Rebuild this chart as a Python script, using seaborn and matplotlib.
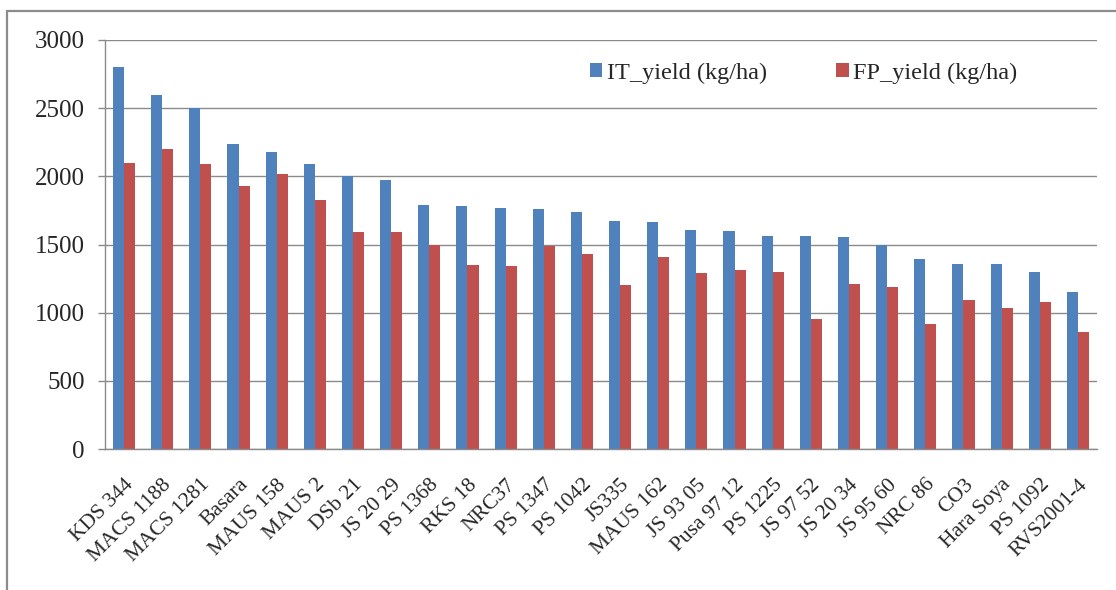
import matplotlib
matplotlib.use("Agg")
import matplotlib.pyplot as plt
from matplotlib.patches import Rectangle
import numpy as np
import pandas as pd
import seaborn as sns

# Soybean varieties and yields (kg/ha)
varieties = [
    "KDS 344", "MACS 1188", "MACS 1281", "Basara", "MAUS 158", "MAUS 2",
    "DSb 21", "JS 20 29", "PS 1368", "RKS 18", "NRC37", "PS 1347",
    "PS 1042", "JS335", "MAUS 162", "JS 93 05", "Pusa 97 12", "PS 1225",
    "JS 97 52", "JS 20 34", "JS 95 60", "NRC 86", "CO3", "Hara Soya",
    "PS 1092", "RVS2001-4",
]
it_yield = [2800, 2600, 2500, 2240, 2175, 2090, 2000, 1970, 1790, 1780,
            1770, 1760, 1735, 1675, 1665, 1610, 1600, 1565, 1565, 1555,
            1500, 1395, 1355, 1355, 1300, 1150]
fp_yield = [2100, 2200, 2090, 1930, 2015, 1825, 1590, 1590, 1500, 1350,
            1340, 1490, 1430, 1200, 1405, 1290, 1310, 1300, 950, 1210,
            1185, 915, 1095, 1035, 1075, 855]
series_names = ["IT_yield (kg/ha)", "FP_yield (kg/ha)"]
y_ticks = [0, 500, 1000, 1500, 2000, 2500, 3000]

df = pd.DataFrame({
    "variety": varieties * 2,
    "series": [series_names[0]] * len(varieties) + [series_names[1]] * len(varieties),
    "yield": it_yield + fp_yield,
})

sns.set_style("white")
plt.rcParams["font.family"] = ["Liberation Serif", "DejaVu Serif"]

W, H = 1116, 590
fig = plt.figure(figsize=(W / 100, H / 100), dpi=100)
fig.patch.set_facecolor("white")

# chart-area frame
fig.add_artist(Rectangle((7 / W, -0.05), 1.2, (H - 11) / H + 0.05,
                         transform=fig.transFigure, fill=False,
                         edgecolor="#8c8c8c", linewidth=1.6))

ax = fig.add_axes([105 / W, 1 - 449 / H, (1097 - 105) / W, (449 - 40) / H])

blue = "#4f81bd"
red = "#c0504d"
sns.barplot(data=df, x="variety", y="yield", hue="series",
            palette=[blue, red], width=0.58, saturation=1,
            linewidth=0, ax=ax)

ax.set_xlim(-0.5, len(varieties) - 0.5)
ax.set_ylim(0, 3000)
ax.set_yticks(y_ticks)
ax.set_yticklabels([str(v) for v in y_ticks], fontsize=18)
ax.set_xlabel("")
ax.set_ylabel("")

# gridlines and axes
ax.set_axisbelow(True)
ax.yaxis.grid(True, color="#8a8a8a", linewidth=1.0)
ax.xaxis.grid(False)
for side in ("top", "right"):
    ax.spines[side].set_visible(False)
for side in ("left", "bottom"):
    ax.spines[side].set_color("#8a8a8a")
    ax.spines[side].set_linewidth(1.0)

# category labels at centres, tick marks between categories
ax.set_xticks(np.arange(len(varieties)))
ax.set_xticklabels(varieties, rotation=45, ha="right", va="top",
                   rotation_mode="anchor", fontsize=15.5)
ax.set_xticks(np.arange(-0.5, len(varieties), 1.0), minor=True)
ax.tick_params(axis="x", which="major", length=0, pad=19)
ax.tick_params(axis="x", which="minor", length=4.5, width=1.0,
               color="#8a8a8a", direction="out")
ax.tick_params(axis="y", which="major", length=5, width=1.0,
               color="#8a8a8a", direction="out", pad=9.5, left=True)

handles, labels = ax.get_legend_handles_labels()
ax.legend(handles, labels, ncol=2, frameon=False, loc="center left",
          bbox_to_anchor=(590 / W, 1 - 73 / H), bbox_transform=fig.transFigure,
          borderpad=0, borderaxespad=0, handlelength=0.5, handleheight=0.55,
          handletextpad=0.2, columnspacing=2.85, fontsize=17.5)

fig.savefig("out.png", dpi=100, facecolor="white")
